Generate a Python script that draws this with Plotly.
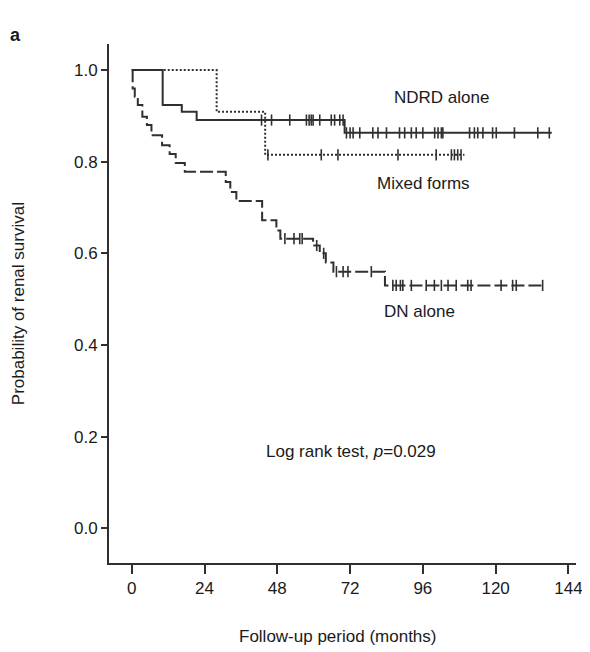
import plotly.graph_objects as go
import numpy as np

# ---- data (months, survival probability) ----
ndrd_times = [0, 10.2, 16.5, 21.4, 70.2]
ndrd_surv = [1.0, 0.924, 0.909, 0.891, 0.863]
ndrd_end = 138.5
ndrd_censor = [42.8, 46.1, 52.1, 57.6, 58.5, 59.2, 59.8, 62.0, 65.8, 66.9, 68.6, 69.7,
               70.8, 72.0, 73.0, 75.2, 79.5, 81.2, 84.0, 88.3, 90.0, 92.2, 93.8, 96.0,
               99.9, 101.0, 102.1, 102.6, 111.4, 113.0, 114.1, 115.8, 119.0, 120.2,
               126.2, 133.9, 137.7]

mixed_times = [0, 28.0, 44.0]
mixed_surv = [1.0, 0.909, 0.815]
mixed_end = 109.7
mixed_censor = [44.9, 62.5, 68.0, 87.8, 100.4, 105.4, 106.4, 107.5, 108.6]

dn_times = [0, 0.3, 1.0, 2.0, 3.5, 5.0, 6.5, 10.0, 12.5, 14.5, 17.5, 31.0, 32.5, 34.5,
            43.0, 47.7, 49.0, 59.8, 62.0, 64.0, 66.5, 83.5]
dn_surv = [1.0, 0.96, 0.942, 0.924, 0.898, 0.880, 0.858, 0.836, 0.817, 0.797, 0.778,
           0.756, 0.734, 0.714, 0.672, 0.650, 0.632, 0.617, 0.600, 0.580, 0.560, 0.530]
dn_end = 136.0
dn_censor = [50.5, 53.5, 55.4, 56.2, 61.0, 63.3, 67.5, 69.7, 71.3, 79.0, 86.1, 87.2,
             88.6, 89.4, 92.2, 97.1, 99.8, 102.1, 104.3, 107.0, 110.8, 111.9, 121.8,
             125.6, 126.8, 135.5]

x_ticks = [0, 24, 48, 72, 96, 120, 144]
y_ticks = [0.0, 0.2, 0.4, 0.6, 0.8, 1.0]
y_ticklabels = ["0.0", "0.2", "0.4", "0.6", "0.8", "1.0"]

LINE = "#303030"
FONT = "Liberation Sans, Arial, sans-serif"


def step_lookup(times, surv, t):
    idx = np.searchsorted(np.array(times), t, side="right") - 1
    return [surv[i] for i in idx]


fig = go.Figure()

curves = [
    (ndrd_times, ndrd_surv, ndrd_end, ndrd_censor, "solid"),
    (mixed_times, mixed_surv, mixed_end, mixed_censor, "2px,2px"),
    (dn_times, dn_surv, dn_end, dn_censor, "13px,4px"),
]

for times, surv, end, cens, dash in curves:
    xs = list(times) + [end]
    ys = list(surv) + [surv[-1]]
    fig.add_trace(go.Scatter(x=xs, y=ys, mode="lines", line_shape="hv",
                             line=dict(color=LINE, width=2, dash=dash),
                             showlegend=False, hoverinfo="skip"))
    fig.add_trace(go.Scatter(x=cens, y=step_lookup(times, surv, cens), mode="markers",
                             marker=dict(symbol="line-ns", size=8,
                                         line=dict(color=LINE, width=1.6)),
                             showlegend=False, hoverinfo="skip"))

txt = dict(family=FONT, size=17, color="#1a1a1a")

fig.add_annotation(x=102.2, y=0.941, text="NDRD alone", showarrow=False, font=txt)
fig.add_annotation(x=96.2, y=0.753, text="Mixed forms", showarrow=False, font=txt)
fig.add_annotation(x=94.9, y=0.474, text="DN alone", showarrow=False, font=txt)
fig.add_annotation(x=72.2, y=0.168, text="Log rank test, <i>p</i>=0.029",
                   showarrow=False, font=txt)
fig.add_annotation(xref="paper", yref="paper", x=-0.216, y=1.04, text="<b>a</b>",
                   showarrow=False, font=dict(family=FONT, size=18, color="#1a1a1a"))
fig.add_annotation(xref="paper", yref="paper", x=-0.218, y=0.5,
                   text="Probability of renal survival", textangle=-90,
                   showarrow=False, font=txt)
fig.add_annotation(xref="paper", yref="paper", x=0.49, y=-0.164,
                   text="Follow-up period (months)", showarrow=False, font=txt)

fig.update_xaxes(range=[-7.5, 146.5], tickvals=x_ticks, ticks="outside", ticklen=9,
                 tickwidth=2, tickcolor=LINE, showline=True, linecolor=LINE,
                 linewidth=2, showgrid=False, zeroline=False, automargin=False,
                 tickfont=dict(family=FONT, size=17, color="#1a1a1a"))
fig.update_yaxes(range=[-0.076, 1.057], tickvals=y_ticks, ticktext=y_ticklabels,
                 ticks="outside", ticklen=6, tickwidth=2, tickcolor=LINE,
                 showline=True, linecolor=LINE, linewidth=2, showgrid=False,
                 zeroline=False, automargin=False,
                 tickfont=dict(family=FONT, size=17, color="#1a1a1a"))

# page body has an 8px default margin, so shift the figure by -8px
fig.update_layout(width=582, height=644, plot_bgcolor="white", paper_bgcolor="white",
                  margin=dict(l=101, r=14, t=36, b=89), showlegend=False)

fig.write_html("out.html")
